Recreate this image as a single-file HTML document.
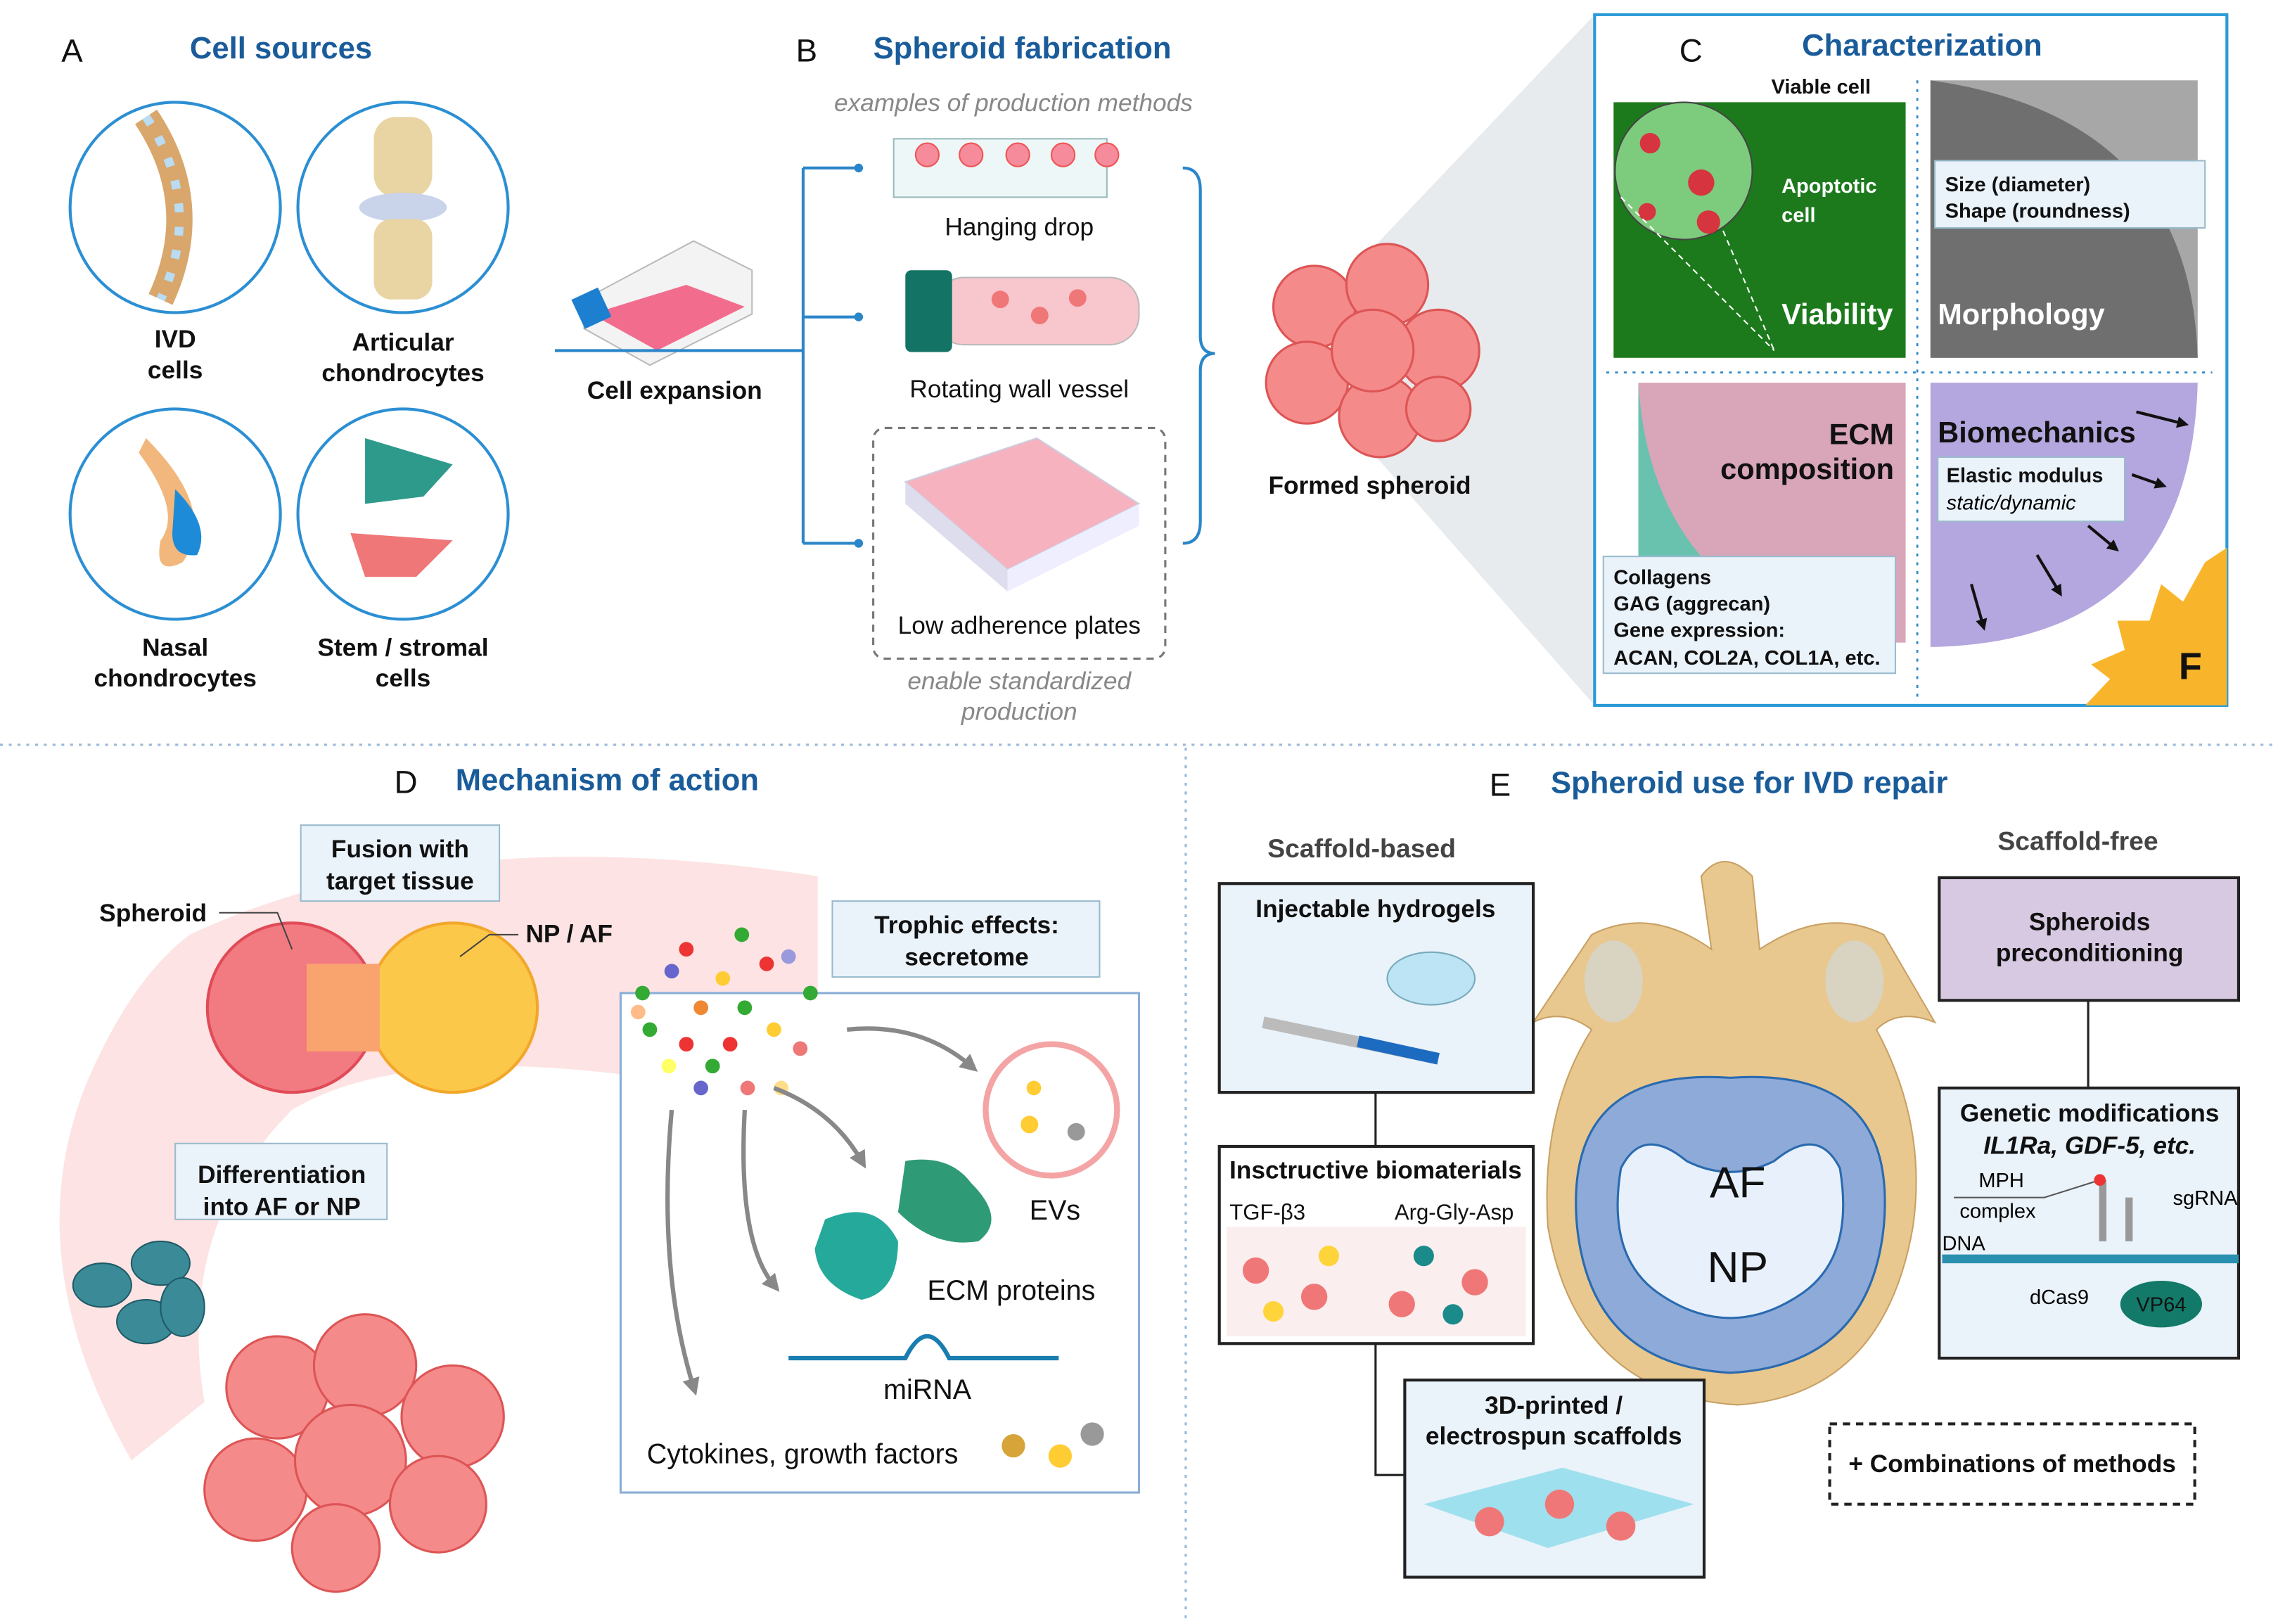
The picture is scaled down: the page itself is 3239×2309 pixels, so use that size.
<!DOCTYPE html>
<html><head><meta charset="utf-8"><style>
html,body{margin:0;padding:0;background:#fff;}
svg{display:block;}
text{font-family:"Liberation Sans",Arial,sans-serif;}
.t{font-weight:bold;fill:#1a5c9a;font-size:21px;}
.L{font-size:22px;fill:#111;}
.b{font-weight:bold;font-size:17px;fill:#111;}
.n{font-size:17px;fill:#111;}
.g{font-style:italic;font-size:17px;fill:#888;}
.s{font-weight:bold;font-size:14px;fill:#111;}
</style></head><body>
<svg width="3239" height="2309" viewBox="0 0 1560 1112" xmlns="http://www.w3.org/2000/svg">
<defs><marker id="ah" viewBox="0 0 10 10" refX="5" refY="5" markerWidth="4" markerHeight="4" orient="auto"><path d="M0 0 L10 5 L0 10Z" fill="#888"/></marker>
<marker id="ak" viewBox="0 0 10 10" refX="5" refY="5" markerWidth="4" markerHeight="4" orient="auto"><path d="M0 0 L10 5 L0 10Z" fill="#111"/></marker></defs>
<rect width="1560" height="1112" fill="#fff"/>
<!-- A -->
<text x="42" y="42" class="L">A</text>
<text x="130" y="40" class="t">Cell sources</text>
<g fill="#fff" stroke="#2c8fd3" stroke-width="2">
<circle cx="120" cy="142" r="72"/><circle cx="276" cy="142" r="72"/>
<circle cx="120" cy="352" r="72"/><circle cx="276" cy="352" r="72"/></g>
<path d="M100 80 Q140 140 110 205" stroke="#d9a66b" stroke-width="18" fill="none"/>
<path d="M100 80 Q140 140 110 205" stroke="#b9dcf3" stroke-width="6" fill="none" stroke-dasharray="6 10"/>
<rect x="256" y="80" width="40" height="55" rx="15" fill="#e9d5a3"/><ellipse cx="276" cy="142" rx="30" ry="10" fill="#c9d3ea"/><rect x="256" y="150" width="40" height="55" rx="12" fill="#e9d5a3"/>
<path d="M100 300 Q150 350 125 385 Q105 395 110 370 Q125 350 95 310Z" fill="#f1b77d"/><path d="M120 335 Q145 360 135 380 Q118 382 118 365Z" fill="#1d8bd8"/>
<path d="M250 300 L310 318 L290 340 L250 345 Z" fill="#2e9a8b"/><path d="M240 365 L310 370 L285 395 L250 395 Z" fill="#f07777"/>
<g class="b" text-anchor="middle"><text x="120" y="238">IVD</text><text x="120" y="259">cells</text>
<text x="276" y="240">Articular</text><text x="276" y="261">chondrocytes</text>
<text x="120" y="449">Nasal</text><text x="120" y="470">chondrocytes</text>
<text x="276" y="449">Stem / stromal</text><text x="276" y="470">cells</text></g>
<!-- flask -->
<path d="M400 205 L475 165 L515 185 L515 215 L445 250 L400 225Z" fill="#f3f3f3" stroke="#bbb"/>
<path d="M405 215 L450 240 L510 210 L470 195Z" fill="#f26d8d"/>
<rect x="395" y="200" width="20" height="22" fill="#1d7fd0" transform="rotate(-25 405 211)"/>
<text x="462" y="273" class="b" text-anchor="middle">Cell expansion</text>
<g stroke="#2a86c9" stroke-width="2" fill="none"><path d="M380 240 H550 M550 115 V372 M550 115 H590 M550 217 H590 M550 372 H590"/></g>
<g fill="#2a86c9"><circle cx="588" cy="115" r="3"/><circle cx="588" cy="217" r="3"/><circle cx="588" cy="372" r="3"/></g>
<!-- B -->
<text x="545" y="42" class="L">B</text>
<text x="598" y="40" class="t">Spheroid fabrication</text>
<text x="694" y="76" class="g" text-anchor="middle">examples of production methods</text>
<rect x="612" y="95" width="146" height="40" fill="#eef7f8" stroke="#9bb"/>
<g fill="#f58b9b" stroke="#e55"><circle cx="635" cy="106" r="8"/><circle cx="665" cy="106" r="8"/><circle cx="697" cy="106" r="8"/><circle cx="728" cy="106" r="8"/><circle cx="758" cy="106" r="8"/></g>
<text x="698" y="161" class="n" text-anchor="middle">Hanging drop</text>
<rect x="640" y="190" width="140" height="46" rx="20" fill="#f8c6cd" stroke="#bbb"/>
<rect x="620" y="185" width="32" height="56" rx="4" fill="#137364"/>
<g fill="#f07777"><circle cx="685" cy="205" r="6"/><circle cx="712" cy="216" r="6"/><circle cx="738" cy="204" r="6"/></g>
<text x="698" y="272" class="n" text-anchor="middle">Rotating wall vessel</text>
<rect x="598" y="293" width="200" height="158" rx="8" fill="none" stroke="#777" stroke-dasharray="5 4" stroke-width="1.5"/>
<path d="M620 330 L710 300 L780 345 L690 390Z" fill="#f7b2c0" stroke="#ccd"/>
<path d="M620 330 L690 390 L690 405 L620 345Z" fill="#dde"/><path d="M690 390 L780 345 L780 360 L690 405Z" fill="#eef"/>
<text x="698" y="434" class="n" text-anchor="middle">Low adherence plates</text>
<text x="698" y="472" class="g" text-anchor="middle">enable standardized</text>
<text x="698" y="493" class="g" text-anchor="middle">production</text>
<path d="M810 115 Q822 115 822 130 V230 Q822 242 832 242 Q822 242 822 254 V357 Q822 372 810 372" fill="none" stroke="#2a86c9" stroke-width="2"/>
<!-- zoom triangle -->
<path d="M940 170 L1092 10 L1092 483 L940 310Z" fill="#d8dde3" opacity="0.6"/>
<g fill="#f58a8a" stroke="#d55" stroke-width="1.5">
<circle cx="900" cy="210" r="28"/><circle cx="950" cy="195" r="28"/><circle cx="985" cy="240" r="28"/><circle cx="895" cy="262" r="28"/><circle cx="945" cy="285" r="28"/><circle cx="940" cy="240" r="28"/><circle cx="985" cy="280" r="22"/></g>
<text x="938" y="338" class="b" text-anchor="middle">Formed spheroid</text>
<!-- C -->
<rect x="1092" y="10" width="433" height="473" fill="#fff" stroke="#2a9ad6" stroke-width="2"/>
<text x="1150" y="42" class="L">C</text>
<text x="1234" y="38" class="t">Characterization</text>
<path d="M1105 245 L1105 70 L1305 70 L1305 245Z" fill="#1c7a1c"/>
<circle cx="1153" cy="117" r="47" fill="#7dcc7d" stroke="#444"/>
<g fill="#d6343f"><circle cx="1165" cy="125" r="9"/><circle cx="1130" cy="98" r="7"/><circle cx="1170" cy="152" r="8"/><circle cx="1128" cy="145" r="6"/></g>
<path d="M1110 135 L1215 240 M1180 158 L1215 240" stroke="#fff" stroke-dasharray="4 3"/>
<text x="1213" y="64" class="s">Viable cell</text>
<text x="1220" y="132" class="s" style="fill:#fff">Apoptotic</text><text x="1220" y="152" class="s" style="fill:#fff">cell</text>
<text x="1220" y="222" style="font-weight:bold;font-size:20px;fill:#fff">Viability</text>
<path d="M1322 55 H1505 V245 H1322Z" fill="#a7a7a7"/><path d="M1322 55 Q1500 80 1505 245 H1322Z" fill="#6f6f6f"/>
<rect x="1325" y="110" width="185" height="46" fill="#eaf2fa" stroke="#9bc"/>
<text x="1332" y="131" class="s">Size (diameter)</text><text x="1332" y="149" class="s">Shape (roundness)</text>
<text x="1327" y="222" style="font-weight:bold;font-size:20px;fill:#fff">Morphology</text>
<path d="M1122 262 H1305 V440 H1122Z" fill="#d9a5b9"/><path d="M1122 262 Q1130 400 1260 440 H1122Z" fill="#68c2ae"/>
<text x="1297" y="304" text-anchor="end" style="font-weight:bold;font-size:20px;fill:#111">ECM</text>
<text x="1297" y="328" text-anchor="end" style="font-weight:bold;font-size:20px;fill:#111">composition</text>
<rect x="1098" y="381" width="200" height="80" fill="#eaf2fa" stroke="#9bc"/>
<g class="s"><text x="1105" y="400">Collagens</text><text x="1105" y="418">GAG (aggrecan)</text><text x="1105" y="436">Gene expression:</text><text x="1105" y="455">ACAN, COL2A, COL1A, etc.</text></g>
<path d="M1322 262 H1505 Q1500 440 1322 443Z" fill="#b4a6de"/>
<text x="1327" y="303" style="font-weight:bold;font-size:20px;fill:#111">Biomechanics</text>
<rect x="1327" y="313" width="128" height="44" fill="#eaf2fa" stroke="#9bc"/>
<text x="1333" y="330" class="s">Elastic modulus</text><text x="1333" y="349" style="font-style:italic;font-size:14px">static/dynamic</text>
<g stroke="#111" stroke-width="2" marker-end="url(#ak)"><path d="M1463 282 L1495 290"/><path d="M1460 325 L1480 332"/><path d="M1430 360 L1448 375"/><path d="M1395 380 L1410 405"/><path d="M1350 400 L1358 428"/></g>
<path d="M1525 375 L1525 483 L1428 483 L1445 465 L1432 455 L1455 445 L1450 425 L1472 425 L1480 400 L1495 412 L1510 385Z" fill="#f8b52c"/>
<text x="1492" y="465" style="font-weight:bold;font-size:26px;fill:#111">F</text>
<g stroke="#2a86c9" stroke-dasharray="2 4" stroke-width="1.3"><path d="M1313 55 V478 M1100 255 H1515"/></g>
<!-- dividers -->
<g stroke="#9ab8d8" stroke-dasharray="2 4" stroke-width="1.5"><path d="M0 510 H1560 M812 512 V1112"/></g>
<!-- D -->
<text x="270" y="543" class="L">D</text>
<text x="312" y="541" class="t">Mechanism of action</text>
<path d="M130 640 Q300 560 560 600 L560 760 Q300 700 200 760 Q120 840 140 960 L90 1000 Q10 860 60 740 Q90 670 130 640Z" fill="#fde3e3"/>
<circle cx="200" cy="690" r="58" fill="#f27b82" stroke="#e04b57" stroke-width="2"/>
<circle cx="310" cy="690" r="58" fill="#fcc84a" stroke="#f2a72a" stroke-width="2"/>
<rect x="210" y="660" width="50" height="60" fill="#f9a36e"/>
<rect x="206" y="565" width="136" height="52" fill="#eaf2fa" stroke="#9bc"/>
<text x="274" y="587" class="b" text-anchor="middle">Fusion with</text><text x="274" y="609" class="b" text-anchor="middle">target tissue</text>
<text x="68" y="631" class="b">Spheroid</text><path d="M150 625 H190 L200 650" stroke="#444" fill="none"/>
<text x="360" y="645" class="b">NP / AF</text><path d="M355 640 H335 L315 655" stroke="#444" fill="none"/>
<rect x="120" y="783" width="145" height="52" fill="#eaf2fa" stroke="#9bc"/>
<text x="193" y="810" class="b" text-anchor="middle">Differentiation</text><text x="193" y="832" class="b" text-anchor="middle">into AF or NP</text>
<g fill="#3b8a98" stroke="#1f5a66"><ellipse cx="70" cy="880" rx="20" ry="15"/><ellipse cx="110" cy="865" rx="20" ry="15"/><ellipse cx="100" cy="905" rx="20" ry="15"/><ellipse cx="125" cy="895" rx="15" ry="20"/></g>
<g fill="#f58a8a" stroke="#d55" stroke-width="1.5">
<circle cx="190" cy="950" r="35"/><circle cx="250" cy="935" r="35"/><circle cx="310" cy="970" r="35"/><circle cx="175" cy="1020" r="35"/><circle cx="240" cy="1000" r="38"/><circle cx="300" cy="1030" r="33"/><circle cx="230" cy="1060" r="30"/></g>
<rect x="425" y="680" width="355" height="342" fill="#fff" stroke="#8aaed6" stroke-width="1.5"/>
<rect x="570" y="617" width="183" height="52" fill="#eaf2fa" stroke="#9bc"/>
<text x="662" y="639" class="b" text-anchor="middle">Trophic effects:</text><text x="662" y="661" class="b" text-anchor="middle">secretome</text>
<g><circle cx="470" cy="650" r="5" fill="#e33"/><circle cx="508" cy="640" r="5" fill="#3a3"/><circle cx="440" cy="680" r="5" fill="#3a3"/><circle cx="460" cy="665" r="5" fill="#66c"/><circle cx="495" cy="670" r="5" fill="#fc3"/><circle cx="525" cy="660" r="5" fill="#e33"/><circle cx="540" cy="655" r="5" fill="#99d"/><circle cx="555" cy="680" r="5" fill="#3a3"/><circle cx="480" cy="690" r="5" fill="#e83"/><circle cx="510" cy="690" r="5" fill="#3a3"/><circle cx="445" cy="705" r="5" fill="#3a3"/><circle cx="470" cy="715" r="5" fill="#e33"/><circle cx="500" cy="715" r="5" fill="#e33"/><circle cx="530" cy="705" r="5" fill="#fc3"/><circle cx="548" cy="718" r="5" fill="#e77"/><circle cx="458" cy="730" r="5" fill="#ff6"/><circle cx="480" cy="745" r="5" fill="#66c"/><circle cx="512" cy="745" r="5" fill="#e77"/><circle cx="535" cy="745" r="5" fill="#fd8"/><circle cx="437" cy="693" r="5" fill="#fb8"/><circle cx="488" cy="730" r="5" fill="#3a3"/></g>
<g stroke="#888" stroke-width="3" fill="none" marker-end="url(#ah)"><path d="M580 705 Q630 700 665 730"/><path d="M530 745 Q570 760 590 795"/><path d="M510 760 Q505 850 530 880"/><path d="M460 760 Q450 870 475 950"/></g>
<circle cx="720" cy="760" r="45" fill="#fff" stroke="#f4a4a4" stroke-width="4"/>
<circle cx="705" cy="770" r="6" fill="#fc3"/><circle cx="737" cy="775" r="6" fill="#999"/><circle cx="708" cy="745" r="5" fill="#fc3"/>
<text x="705" y="835" class="n" style="font-size:19px">EVs</text>
<path d="M620 795 Q650 790 665 810 Q690 835 670 850 Q640 855 615 830Z" fill="#2f9a76"/>
<path d="M565 835 Q600 820 615 850 Q615 885 590 890 Q560 880 558 855Z" fill="#25a99a"/>
<text x="635" y="890" class="n" style="font-size:19px">ECM proteins</text>
<path d="M540 930 H620 Q635 900 650 930 H725" stroke="#1a7db0" stroke-width="3" fill="none"/>
<text x="605" y="958" class="n" style="font-size:19px">miRNA</text>
<text x="443" y="1002" class="n" style="font-size:19px">Cytokines, growth factors</text>
<circle cx="694" cy="990" r="8" fill="#d7a43a"/><circle cx="726" cy="997" r="8" fill="#fc3"/><circle cx="748" cy="982" r="8" fill="#999"/>
<!-- E -->
<text x="1020" y="545" class="L">E</text>
<text x="1062" y="543" class="t">Spheroid use for IVD repair</text>
<text x="868" y="587" class="b" style="fill:#444;font-size:18px">Scaffold-based</text>
<text x="1368" y="582" class="b" style="fill:#444;font-size:18px">Scaffold-free</text>
<!-- vertebra -->
<path d="M1165 600 Q1180 580 1200 600 L1205 650 Q1250 620 1290 640 L1325 700 Q1300 690 1285 705 Q1320 770 1310 840 Q1290 955 1190 962 Q1080 955 1060 840 Q1055 760 1090 705 Q1070 690 1050 700 L1090 640 Q1130 620 1172 650Z" fill="#e8c88e" stroke="#c9a064"/>
<ellipse cx="1105" cy="672" rx="20" ry="28" fill="#d9d3c2"/><ellipse cx="1270" cy="672" rx="20" ry="28" fill="#d9d3c2"/>
<path d="M1080 840 Q1070 730 1185 738 Q1300 730 1290 840 Q1280 935 1185 940 Q1090 935 1080 840Z" fill="#8eaad8" stroke="#2a6ab0" stroke-width="1.5"/>
<path d="M1110 800 Q1125 770 1155 795 Q1185 810 1215 795 Q1245 770 1260 800 Q1270 860 1235 885 Q1185 920 1135 885 Q1100 860 1110 800Z" fill="#e8f1fb" stroke="#2a6ab0" stroke-width="1.5"/>
<text x="1190" y="820" text-anchor="middle" style="font-size:30px;fill:#111">AF</text>
<text x="1190" y="878" text-anchor="middle" style="font-size:30px;fill:#111">NP</text>
<g stroke="#222" stroke-width="1.5" fill="none"><path d="M942 748 V785 M942 920 V1010 H962 M1430 685 V745"/></g>
<rect x="835" y="605" width="215" height="143" fill="#eaf2fa" stroke="#222" stroke-width="2"/>
<text x="942" y="628" class="b" text-anchor="middle">Injectable hydrogels</text>
<path d="M865 700 L985 725" stroke="#bbb" stroke-width="8"/><path d="M930 713 L985 725" stroke="#1d6bc0" stroke-width="8"/>
<ellipse cx="980" cy="670" rx="30" ry="18" fill="#bde4f4" stroke="#7ab"/>
<rect x="835" y="785" width="215" height="135" fill="#fff" stroke="#222" stroke-width="2"/>
<text x="942" y="807" class="b" text-anchor="middle">Insctructive biomaterials</text>
<text x="842" y="835" style="font-size:15px;fill:#111">TGF-β3</text><text x="955" y="835" style="font-size:15px;fill:#111">Arg-Gly-Asp</text>
<rect x="840" y="840" width="205" height="75" fill="#f9eaea" opacity="0.8"/>
<g fill="#f07777"><circle cx="860" cy="870" r="9"/><circle cx="900" cy="888" r="9"/><circle cx="960" cy="893" r="9"/><circle cx="1010" cy="878" r="9"/></g>
<g fill="#ffd43b"><circle cx="910" cy="860" r="7"/><circle cx="872" cy="898" r="7"/></g>
<g fill="#1a8a8a"><circle cx="975" cy="860" r="7"/><circle cx="995" cy="900" r="7"/></g>
<rect x="962" y="945" width="205" height="135" fill="#eaf2fa" stroke="#222" stroke-width="2"/>
<text x="1064" y="968" class="b" text-anchor="middle">3D-printed /</text><text x="1064" y="989" class="b" text-anchor="middle">electrospun scaffolds</text>
<path d="M975 1030 L1070 1005 L1160 1030 L1060 1060Z" fill="#9fe0ee"/>
<g fill="#f07777"><circle cx="1020" cy="1042" r="10"/><circle cx="1068" cy="1030" r="10"/><circle cx="1110" cy="1045" r="10"/></g>
<rect x="1328" y="601" width="205" height="84" fill="#d7c9e2" stroke="#222" stroke-width="2"/>
<text x="1431" y="637" class="b" text-anchor="middle">Spheroids</text><text x="1431" y="658" class="b" text-anchor="middle">preconditioning</text>
<rect x="1328" y="745" width="205" height="185" fill="#eaf2fa" stroke="#222" stroke-width="2"/>
<text x="1431" y="768" class="b" text-anchor="middle">Genetic modifications</text>
<text x="1431" y="790" class="b" text-anchor="middle" font-style="italic">IL1Ra, GDF-5, etc.</text>
<text x="1355" y="813" style="font-size:14px">MPH</text><text x="1342" y="834" style="font-size:14px">complex</text><text x="1330" y="856" style="font-size:14px">DNA</text><text x="1488" y="825" style="font-size:14px">sgRNA</text>
<path d="M1338 820 H1400 L1438 808" stroke="#555" fill="none"/>
<path d="M1330 862 H1533" stroke="#2a90b0" stroke-width="6"/>
<path d="M1440 808 V850 M1458 820 V850" stroke="#999" stroke-width="5"/>
<circle cx="1438" cy="808" r="4" fill="#e33"/>
<text x="1390" y="893" style="font-size:14px">dCas9</text>
<ellipse cx="1480" cy="893" rx="28" ry="16" fill="#137a6a"/><text x="1480" y="898" text-anchor="middle" style="font-size:14px;fill:#111">VP64</text>
<rect x="1253" y="975" width="250" height="55" fill="#fff" stroke="#222" stroke-width="2" stroke-dasharray="5 4"/>
<text x="1378" y="1008" class="b" text-anchor="middle">+ Combinations of methods</text>
</svg>
</body></html>
